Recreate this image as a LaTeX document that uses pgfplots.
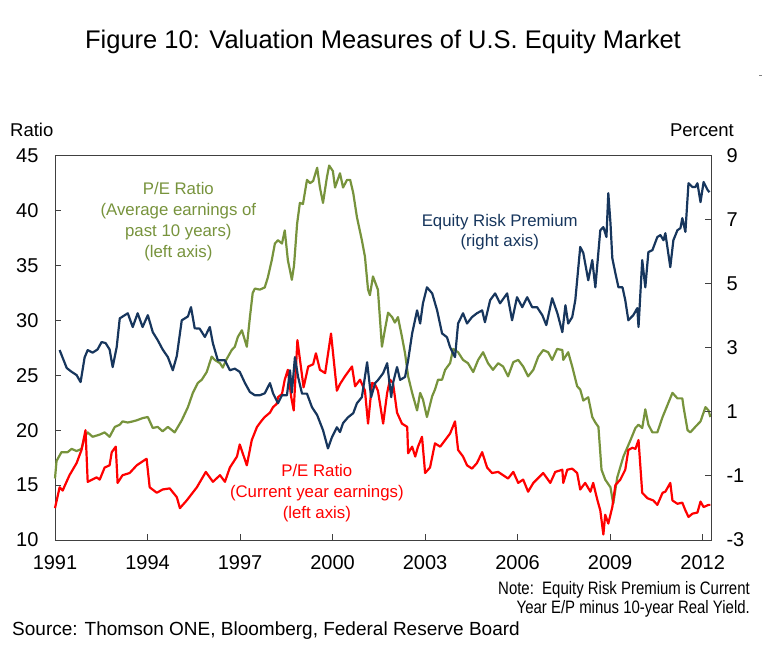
\documentclass[border=0pt]{standalone}
\usepackage{pgfplots}
\pgfplotsset{compat=1.18}
\usepackage{fontspec}
\setmainfont{Liberation Sans}
\newfontfamily\narrowfont[FakeStretch=0.83]{Liberation Sans}
\definecolor{erpblue}{HTML}{17365D}
\definecolor{capegreen}{HTML}{77933C}
\definecolor{pered}{HTML}{FF0000}
\definecolor{framegray}{HTML}{404040}
\begin{document}
\begin{tikzpicture}
\path[use as bounding box] (-55pt,-128pt) rectangle (711pt,540pt);
\begin{axis}[at={(0pt,0pt)}, anchor=south west, scale only axis,
  width=656pt, height=384.3pt,
  xmin=1991, xmax=2012.27, ymin=10, ymax=45,
  xtick={1991,1994,...,2012}, ytick={10,15,...,45},
  xtick pos=bottom, ytick pos=left, tick align=inside,
  major tick length=6pt,
  axis line style={draw=framegray, line width=0.9pt},
  tick style={draw=framegray, line width=0.9pt},
  /pgf/number format/assume math mode=true,
  /pgf/number format/1000 sep={},
  xticklabel style={font=\fontsize{20}{20}\selectfont, yshift=-12pt},
  yticklabel style={font=\fontsize{20}{20}\selectfont, xshift=-13pt},
  clip=false]
\addplot[capegreen, line width=2.2pt, line join=round] table {
1991.00 15.6
1991.05 17.2
1991.21 18.0
1991.41 18.0
1991.54 18.3
1991.70 18.1
1991.86 18.3
1991.96 19.4
1992.06 19.8
1992.22 19.4
1992.45 19.6
1992.61 19.8
1992.77 19.4
1992.94 20.3
1993.10 20.5
1993.19 20.8
1993.36 20.7
1993.52 20.8
1993.65 20.9
1993.84 21.1
1994.01 21.2
1994.17 20.2
1994.33 20.3
1994.49 19.9
1994.66 20.3
1994.88 19.8
1995.11 20.9
1995.31 22.1
1995.47 23.4
1995.63 24.3
1995.76 24.6
1995.92 25.3
1996.08 26.7
1996.18 26.4
1996.35 26.1
1996.44 25.7
1996.57 26.5
1996.73 27.3
1996.83 27.6
1996.93 28.5
1997.06 29.1
1997.22 27.6
1997.32 30.3
1997.41 32.5
1997.48 32.9
1997.64 32.8
1997.80 33.0
1997.90 33.9
1998.03 35.5
1998.13 37.0
1998.23 37.3
1998.36 37.0
1998.45 38.2
1998.55 35.5
1998.68 33.7
1998.75 35.0
1998.85 38.8
1998.94 40.7
1999.04 40.6
1999.17 42.8
1999.27 42.5
1999.37 42.7
1999.50 43.9
1999.59 42.1
1999.69 40.7
1999.82 43.1
1999.89 44.1
2000.01 43.6
2000.08 42.1
2000.24 43.4
2000.34 42.1
2000.47 42.8
2000.57 42.8
2000.67 41.6
2000.79 39.4
2000.95 37.3
2001.05 35.8
2001.15 32.8
2001.21 32.3
2001.31 34.0
2001.47 32.8
2001.60 27.6
2001.70 29.2
2001.80 30.7
2001.93 30.3
2002.02 29.8
2002.12 30.3
2002.25 28.5
2002.35 27.0
2002.45 24.9
2002.58 23.4
2002.74 21.8
2002.84 23.4
2002.93 22.8
2003.06 21.2
2003.23 23.1
2003.32 23.7
2003.42 24.6
2003.55 24.6
2003.65 25.5
2003.81 26.1
2003.91 27.4
2004.07 27.1
2004.23 26.4
2004.39 26.1
2004.56 25.3
2004.72 26.4
2004.88 27.1
2005.04 26.1
2005.20 25.5
2005.37 26.1
2005.53 25.8
2005.69 24.9
2005.86 26.2
2006.02 26.4
2006.18 25.8
2006.34 24.9
2006.51 25.5
2006.67 26.7
2006.83 27.3
2006.99 27.1
2007.12 26.4
2007.28 27.4
2007.45 27.3
2007.48 26.4
2007.64 27.1
2007.77 25.8
2007.93 24.0
2008.03 23.7
2008.13 22.7
2008.29 23.0
2008.42 21.2
2008.52 20.7
2008.62 20.3
2008.72 16.4
2008.84 15.5
2009.01 14.8
2009.10 13.3
2009.23 15.7
2009.43 17.6
2009.66 19.1
2009.82 20.2
2009.92 20.5
2010.04 20.2
2010.14 21.9
2010.24 20.5
2010.37 19.8
2010.53 19.8
2010.70 21.2
2010.86 22.3
2011.02 23.4
2011.18 22.9
2011.34 22.9
2011.38 22.1
2011.51 20.0
2011.60 19.8
2011.76 20.3
2011.93 20.8
2012.09 22.1
2012.19 21.8
2012.25 21.2
};
\addplot[pered, line width=2.2pt, line join=round] table {
1991.00 12.9
1991.15 14.8
1991.25 14.5
1991.31 14.9
1991.47 15.9
1991.70 17.0
1991.86 18.2
1991.99 20.0
1992.06 15.3
1992.35 15.7
1992.45 15.5
1992.61 16.6
1992.77 16.8
1992.84 18.0
1992.97 18.5
1993.03 15.2
1993.19 15.9
1993.42 16.1
1993.65 16.8
1993.97 17.4
1994.07 14.8
1994.30 14.3
1994.49 14.6
1994.72 14.7
1994.95 13.9
1995.05 12.9
1995.27 13.6
1995.60 14.8
1995.89 16.2
1996.12 15.3
1996.35 15.9
1996.51 15.3
1996.67 16.6
1996.90 17.6
1996.99 18.7
1997.22 16.8
1997.38 19.1
1997.55 20.3
1997.71 20.9
1997.80 21.2
1997.97 21.6
1998.07 22.1
1998.19 22.4
1998.23 23.0
1998.36 23.3
1998.45 24.6
1998.55 25.5
1998.66 23.0
1998.74 21.8
1998.86 28.2
1999.06 23.9
1999.21 25.8
1999.37 26.0
1999.46 27.0
1999.59 25.5
1999.76 25.2
1999.95 28.8
2000.14 23.6
2000.24 24.2
2000.40 24.9
2000.63 25.8
2000.73 24.0
2000.89 24.6
2001.05 23.6
2001.15 20.6
2001.28 24.3
2001.37 24.2
2001.47 23.6
2001.64 20.6
2001.77 23.4
2001.86 24.6
2001.96 24.3
2002.09 21.6
2002.25 20.6
2002.42 20.3
2002.45 17.9
2002.58 18.5
2002.68 17.6
2002.77 18.5
2002.90 19.4
2003.00 16.1
2003.16 16.6
2003.32 18.8
2003.49 18.5
2003.65 19.1
2003.81 19.7
2003.97 20.8
2004.07 18.2
2004.23 17.6
2004.36 16.8
2004.52 16.5
2004.68 17.0
2004.85 18.0
2005.01 16.6
2005.17 16.1
2005.37 16.2
2005.53 15.9
2005.69 15.6
2005.86 16.2
2006.02 15.2
2006.18 15.5
2006.34 14.4
2006.51 15.2
2006.83 16.1
2007.06 15.2
2007.22 16.2
2007.45 16.4
2007.48 15.2
2007.61 16.4
2007.77 16.5
2007.93 16.1
2008.03 14.6
2008.19 15.2
2008.36 14.4
2008.45 15.2
2008.59 13.6
2008.68 12.7
2008.78 10.5
2008.84 12.3
2008.94 11.5
2009.07 13.0
2009.17 15.0
2009.33 15.5
2009.49 16.4
2009.59 18.2
2009.72 18.4
2009.82 18.3
2009.92 19.1
2010.04 14.3
2010.21 13.8
2010.40 13.6
2010.53 13.2
2010.70 14.3
2010.79 14.4
2010.95 15.2
2011.02 13.6
2011.18 13.3
2011.34 13.4
2011.44 12.7
2011.54 12.1
2011.67 12.4
2011.83 12.5
2011.93 13.5
2012.03 13.0
2012.19 13.2
2012.25 13.2
};
\node[align=center, text=capegreen, font=\fontsize{16.8}{21}\selectfont] at (axis cs:1995.0,38.95)
  {P/E Ratio\\(Average earnings of\\past 10 years)\\(left axis)};
\node[align=center, text=erpblue, font=\fontsize{16.8}{20}\selectfont] at (axis cs:2005.42,38.05)
  {Equity Risk Premium\\(right axis)};
\node[align=center, text=pered, font=\fontsize{16.8}{21}\selectfont] at (axis cs:1999.49,14.28)
  {P/E Ratio\\(Current year earnings)\\(left axis)};
\end{axis}
\begin{axis}[at={(0pt,0pt)}, anchor=south west, scale only axis,
  width=656pt, height=384.3pt,
  xmin=1991, xmax=2012.27, ymin=-3, ymax=9,
  ytick={-3,-1,...,9},
  axis x line=none, axis y line*=right, tick align=inside,
  major tick length=6pt,
  axis line style={draw=framegray, line width=0.9pt, -},
  tick style={draw=framegray, line width=0.9pt},
  /pgf/number format/assume math mode=true,
  yticklabel style={font=\fontsize{20}{20}\selectfont, xshift=12pt, anchor=west}]
\addplot[erpblue, line width=2.2pt, line join=round] table {
1991.15 2.93
1991.38 2.37
1991.54 2.25
1991.70 2.15
1991.83 1.93
1991.96 2.70
1992.06 2.93
1992.22 2.85
1992.38 2.95
1992.51 3.18
1992.64 3.15
1992.77 2.95
1992.87 2.40
1993.00 3.02
1993.10 3.92
1993.36 4.08
1993.52 3.65
1993.68 4.08
1993.84 3.65
1994.01 4.02
1994.17 3.49
1994.33 3.24
1994.49 2.95
1994.66 2.71
1994.82 2.30
1994.95 2.75
1995.11 3.86
1995.31 3.98
1995.41 4.27
1995.53 3.61
1995.69 3.60
1995.86 3.34
1996.02 3.65
1996.12 3.14
1996.28 2.61
1996.51 2.61
1996.67 2.30
1996.83 2.35
1996.99 2.25
1997.16 1.90
1997.32 1.62
1997.48 1.52
1997.64 1.52
1997.80 1.58
1997.97 1.90
1998.07 1.58
1998.23 1.27
1998.36 1.52
1998.52 1.52
1998.62 2.30
1998.68 1.60
1998.78 2.71
1998.88 2.10
1999.01 1.57
1999.17 1.57
1999.33 1.15
1999.50 0.90
1999.69 0.43
1999.85 -0.14
1999.98 0.21
2000.14 0.52
2000.24 0.37
2000.34 0.65
2000.50 0.83
2000.67 0.96
2000.79 1.27
2000.95 1.46
2001.12 2.55
2001.25 1.46
2001.38 1.90
2001.47 1.99
2001.64 2.21
2001.77 2.52
2001.90 1.46
2001.96 1.90
2002.09 2.40
2002.19 2.00
2002.35 2.09
2002.45 2.61
2002.58 3.45
2002.74 4.17
2002.84 3.76
2002.93 4.39
2003.06 4.89
2003.23 4.70
2003.39 4.17
2003.55 3.45
2003.71 3.33
2003.81 3.02
2003.97 2.71
2004.07 3.76
2004.23 4.08
2004.36 3.76
2004.52 3.96
2004.68 4.08
2004.85 4.17
2004.94 3.80
2005.11 4.49
2005.27 4.70
2005.43 4.39
2005.66 4.70
2005.82 3.86
2005.98 4.58
2006.15 4.27
2006.31 4.58
2006.47 4.27
2006.63 4.27
2006.80 4.02
2006.93 3.71
2007.12 4.55
2007.29 4.08
2007.45 3.49
2007.55 4.33
2007.64 3.76
2007.77 3.96
2007.87 4.49
2008.03 6.15
2008.13 5.96
2008.29 5.11
2008.42 5.74
2008.52 4.89
2008.68 6.67
2008.78 6.77
2008.88 6.46
2008.94 7.83
2009.01 6.90
2009.07 5.80
2009.17 5.33
2009.27 4.89
2009.40 4.89
2009.49 4.49
2009.59 3.86
2009.75 4.02
2009.88 4.24
2009.92 3.65
2010.04 5.74
2010.14 4.89
2010.24 5.99
2010.37 6.05
2010.53 6.46
2010.63 6.52
2010.73 6.36
2010.79 6.58
2010.95 5.52
2011.05 6.36
2011.18 6.67
2011.28 6.74
2011.34 7.05
2011.44 6.62
2011.54 8.14
2011.67 8.02
2011.76 8.02
2011.83 8.14
2011.93 7.55
2012.03 8.18
2012.16 7.93
2012.22 7.86
};
\end{axis}
\node[font=\fontsize{25.5}{30}\selectfont] at (328pt,498pt)
  {Figure 10: Valuation Measures of U.S. Equity Market};
\node[anchor=west, inner sep=0pt, font=\fontsize{18.5}{20}\selectfont] at (-45pt,410pt) {Ratio};
\node[anchor=east, inner sep=0pt, font=\fontsize{18.5}{20}\selectfont] at (679pt,410pt) {Percent};
\node[anchor=east, inner sep=0pt, font=\narrowfont\fontsize{18}{20}\selectfont] at (695pt,-50pt)
  {Note:\ \ Equity Risk Premium is Current};
\node[anchor=east, inner sep=0pt, font=\narrowfont\fontsize{18}{20}\selectfont] at (695pt,-69pt)
  {Year E/P minus 10-year Real Yield.};
\node[anchor=west, inner sep=0pt, font=\fontsize{19}{20}\selectfont] at (-43pt,-91pt)
  {Source: Thomson ONE, Bloomberg, Federal Reserve Board};
\draw[gray, line width=0.6pt] (704pt,465pt) -- (707pt,465pt);
\end{tikzpicture}
\end{document}
